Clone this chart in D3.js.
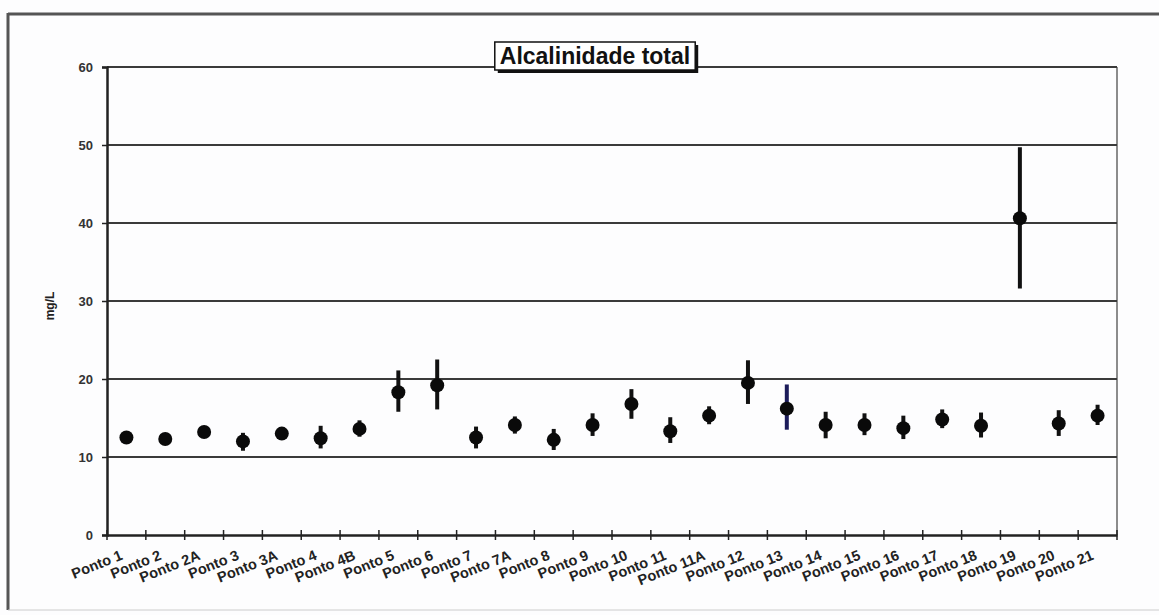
<!DOCTYPE html>
<html><head><meta charset="utf-8">
<script src="https://cdn.jsdelivr.net/npm/d3@7"></script>
<style>html,body{margin:0;padding:0;background:#fdfdfe;}svg{display:block;}</style>
</head><body>
<svg id="c" width="1159" height="615"></svg>
<script>
const categories = ["Ponto 1","Ponto 2","Ponto 2A","Ponto 3","Ponto 3A","Ponto 4","Ponto 4B","Ponto 5","Ponto 6","Ponto 7","Ponto 7A","Ponto 8","Ponto 9","Ponto 10","Ponto 11","Ponto 11A","Ponto 12","Ponto 13","Ponto 14","Ponto 15","Ponto 16","Ponto 17","Ponto 18","Ponto 19","Ponto 20","Ponto 21"];
const means = [12.5,12.3,13.2,12.0,13.0,12.4,13.6,18.3,19.2,12.5,14.1,12.2,14.1,16.8,13.3,15.3,19.5,16.2,14.1,14.1,13.7,14.8,14.0,40.6,14.3,15.3];
const upper = [13.0,13.0,13.7,13.1,13.5,14.0,14.7,21.1,22.5,13.9,15.2,13.6,15.6,18.7,15.1,16.5,22.4,19.3,15.8,15.6,15.3,16.1,15.7,49.7,16.0,16.7];
const lower = [12.0,11.6,12.7,10.8,12.5,11.1,12.6,15.8,16.1,11.1,13.0,10.9,12.7,14.9,11.8,14.2,16.8,13.5,12.4,12.8,12.3,13.7,12.5,31.6,12.7,14.1];
const yTicks = [0,10,20,30,40,50,60];
const title = "Alcalinidade total";
const yLabel = "mg/L";

const svg = d3.select("#c");
const L = 107, R = 1117, T = 67, B = 535;
const FONT = "Liberation Sans, Arial, sans-serif";

// outer chart border
svg.append("line").attr("x1",8).attr("x2",1159).attr("y1",14).attr("y2",14).attr("stroke","#555").attr("stroke-width",3);
svg.append("line").attr("x1",8).attr("x2",8).attr("y1",13).attr("y2",610).attr("stroke","#555").attr("stroke-width",3);
svg.append("line").attr("x1",8).attr("x2",1159).attr("y1",610).attr("y2",610).attr("stroke","#ccc").attr("stroke-width",1);

const x = d3.scaleBand().domain(categories).range([L,R]).paddingInner(0).paddingOuter(0);
const y = d3.scaleLinear().domain([0,60]).range([B,T]);

// plot area right border
svg.append("line").attr("x1",R).attr("x2",R).attr("y1",T).attr("y2",B).attr("stroke","#666").attr("stroke-width",1.5);

// gridlines
svg.append("g").selectAll("line").data(yTicks.filter(d=>d>0)).join("line")
  .attr("x1",L).attr("x2",R).attr("y1",d=>y(d)).attr("y2",d=>y(d))
  .attr("stroke","#3a3a3a").attr("stroke-width",2);

// y axis
const ya = svg.append("g").attr("transform",`translate(${L},0)`)
  .call(d3.axisLeft(y).tickValues(yTicks).tickSize(5).tickPadding(9));
ya.select(".domain").attr("stroke","#222").attr("stroke-width",2.5);
ya.selectAll(".tick line").attr("stroke","#222").attr("stroke-width",1.5);
ya.selectAll(".tick text").attr("font-family",FONT).attr("font-weight","bold").attr("font-size",13).attr("fill","#333");

// x axis
const xa = svg.append("g").attr("transform",`translate(0,${B})`)
  .call(d3.axisBottom(x).tickSize(0).tickFormat(""));
xa.select(".domain").attr("stroke","#222").attr("stroke-width",2.5);
const tickPos = categories.map(c=>x(c)).concat([R]);
svg.append("g").selectAll("line").data(tickPos).join("line")
  .attr("x1",d=>d).attr("x2",d=>d).attr("y1",B-5).attr("y2",B+5)
  .attr("stroke","#222").attr("stroke-width",1.5);

// x labels
svg.append("g").selectAll("text").data(categories).join("text")
  .attr("transform",d=>`translate(${x(d)+x.bandwidth()/2-3},${B+24}) rotate(-22)`)
  .attr("text-anchor","end")
  .attr("font-family",FONT).attr("font-weight","bold").attr("font-size",14.5)
  .attr("fill","#222").text(d=>d);

// y label
svg.append("text").attr("transform","translate(54,306) rotate(-90)").attr("text-anchor","middle")
  .attr("font-family",FONT).attr("font-weight","bold").attr("font-size",12)
  .attr("fill","#222").text(yLabel);

// error bars
const pts = categories.map((c,i)=>({c, m:means[i], u:upper[i], l:lower[i], i}));
svg.append("g").selectAll("line").data(pts).join("line")
  .attr("x1",d=>x(d.c)+x.bandwidth()/2).attr("x2",d=>x(d.c)+x.bandwidth()/2)
  .attr("y1",d=>y(d.u)).attr("y2",d=>y(d.l))
  .attr("stroke",d=>d.c==="Ponto 13"?"#1c1c5a":"#111").attr("stroke-width",4);
svg.append("g").selectAll("circle").data(pts).join("circle")
  .attr("cx",d=>x(d.c)+x.bandwidth()/2).attr("cy",d=>y(d.m)).attr("r",7)
  .attr("fill","#0a0a0a");

// title box
const tg = svg.append("g");
const tt = tg.append("text").attr("x",595).attr("y",64).attr("text-anchor","middle")
  .attr("font-family",FONT).attr("font-weight","bold").attr("font-size",23)
  .attr("fill","#111").text(title);
const bb = tt.node().getBBox();
tg.insert("rect","text").attr("x",bb.x-5+3).attr("y",bb.y-1+3).attr("width",bb.width+10).attr("height",bb.height+2).attr("fill","#111");
tg.insert("rect","text").attr("x",bb.x-5).attr("y",bb.y-1).attr("width",bb.width+10).attr("height",bb.height+2).attr("fill","#fff").attr("stroke","#111").attr("stroke-width",1.5);
</script>
</body></html>
